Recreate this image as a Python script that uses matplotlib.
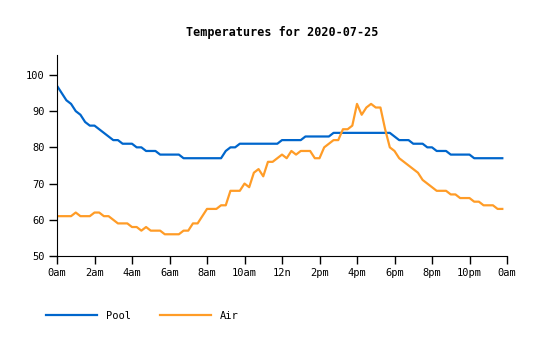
import numpy as np
import matplotlib
matplotlib.use("Agg")
import matplotlib.pyplot as plt

# readings every 15 minutes, one row per hour
hours = np.arange(0, 24, 0.25)

pool = [
    97, 95, 93, 92,
    90, 89, 87, 86,
    86, 85, 84, 83,
    82, 82, 81, 81,
    81, 80, 80, 79,
    79, 79, 78, 78,
    78, 78, 78, 77,
    77, 77, 77, 77,
    77, 77, 77, 77,
    79, 80, 80, 81,
    81, 81, 81, 81,
    81, 81, 81, 81,
    82, 82, 82, 82,
    82, 83, 83, 83,
    83, 83, 83, 84,
    84, 84, 84, 84,
    84, 84, 84, 84,
    84, 84, 84, 84,
    83, 82, 82, 82,
    81, 81, 81, 80,
    80, 79, 79, 79,
    78, 78, 78, 78,
    78, 77, 77, 77,
    77, 77, 77, 77,
]

air = [
    61, 61, 61, 61,
    62, 61, 61, 61,
    62, 62, 61, 61,
    60, 59, 59, 59,
    58, 58, 57, 58,
    57, 57, 57, 56,
    56, 56, 56, 57,
    57, 59, 59, 61,
    63, 63, 63, 64,
    64, 68, 68, 68,
    70, 69, 73, 74,
    72, 76, 76, 77,
    78, 77, 79, 78,
    79, 79, 79, 77,
    77, 80, 81, 82,
    82, 85, 85, 86,
    92, 89, 91, 92,
    91, 91, 85, 80,
    79, 77, 76, 75,
    74, 73, 71, 70,
    69, 68, 68, 68,
    67, 67, 66, 66,
    66, 65, 65, 64,
    64, 64, 63, 63,
]

tick_hours = list(range(0, 25, 2))
tick_labels = ["0am", "2am", "4am", "6am", "8am", "10am", "12n",
               "2pm", "4pm", "6pm", "8pm", "10pm", "0am"]

plt.rcParams["font.family"] = "DejaVu Sans Mono"

fig = plt.figure(figsize=(5.4, 3.4), dpi=100)
ax = fig.add_axes([57 / 540, 84 / 340, 450 / 540, 201 / 340])

ax.plot(hours, pool, color="#0066cc", lw=1.6, label="Pool")
ax.plot(hours, air, color="#ff9c27", lw=1.6, label="Air")

ax.set_xlim(0, 24)
ax.set_ylim(50, 105.5)
ax.set_xticks(tick_hours)
ax.set_xticklabels(tick_labels)
ax.set_yticks([50, 60, 70, 80, 90, 100])
ax.tick_params(length=6, width=1, labelsize=7.5, pad=3)

for side in ["top", "right"]:
    ax.spines[side].set_visible(False)

ax.set_title("Temperatures for 2020-07-25", fontsize=8.5, fontweight="bold", pad=14)

fig.legend(loc="center left", bbox_to_anchor=(46 / 540, 1 - 316 / 340),
           ncol=2, frameon=False, fontsize=7.5, borderpad=0, borderaxespad=0,
           handlelength=4.9, handletextpad=0.9, columnspacing=2.7)

fig.savefig("out.png", dpi=100)
